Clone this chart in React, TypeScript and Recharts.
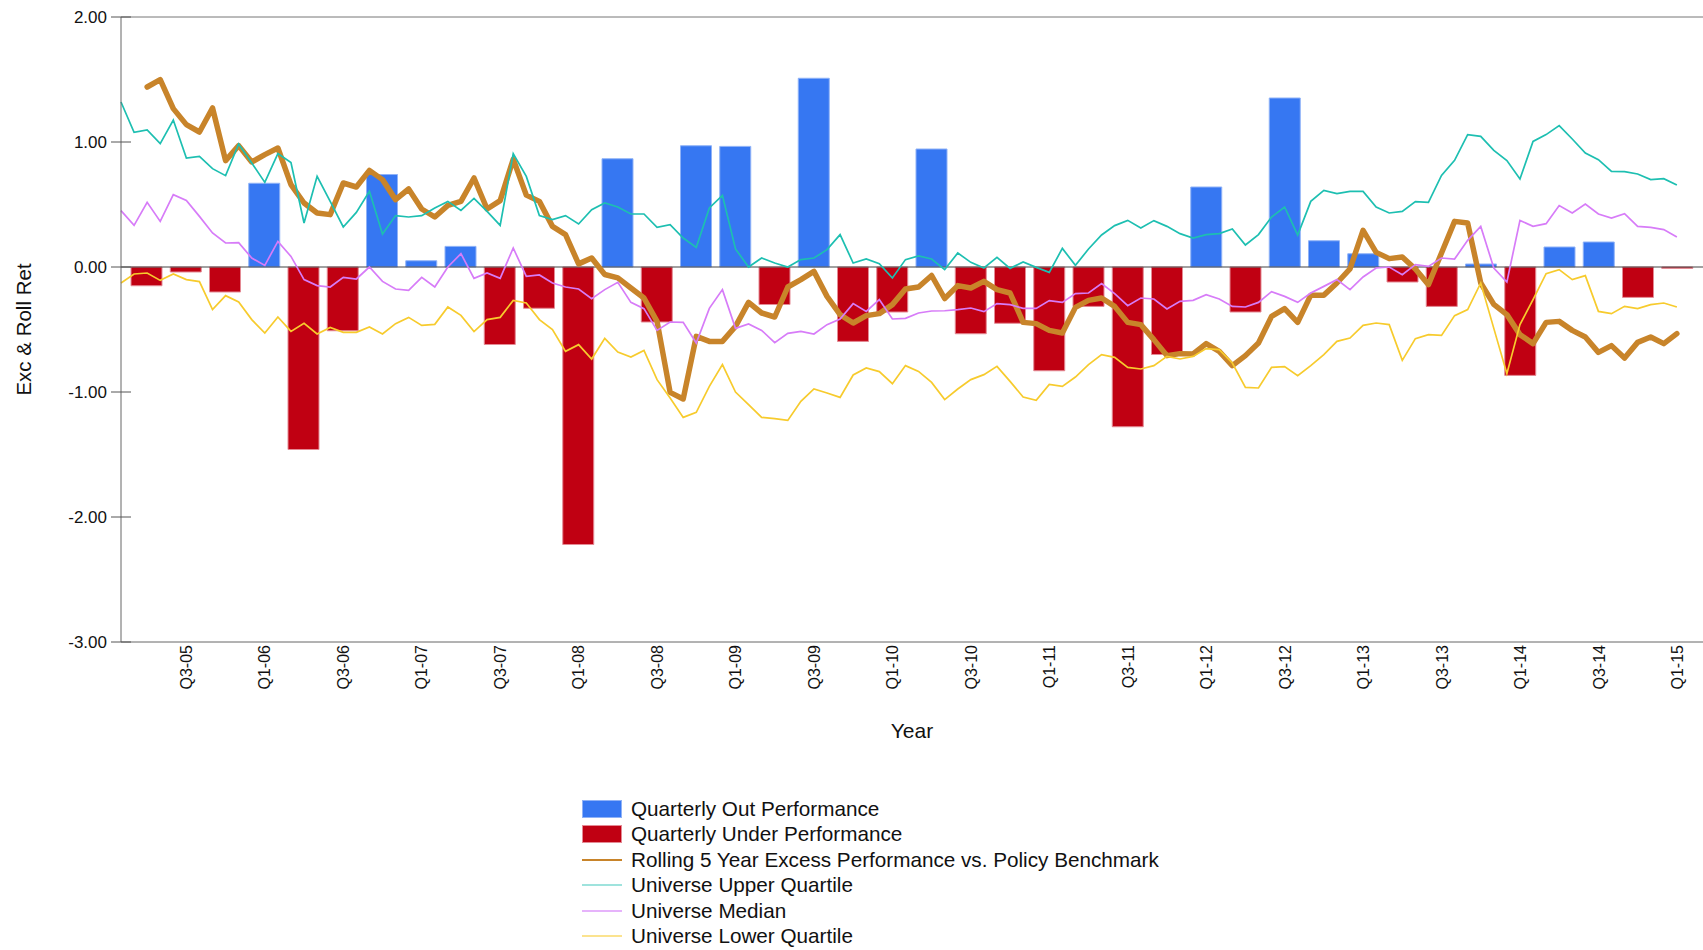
import React from "react";
import {
  ComposedChart,
  Bar,
  Line,
  XAxis,
  YAxis,
  ReferenceLine,
} from "recharts";

// quarterly bars, Q2-05 .. Q1-15
const quarters = [
  "Q2-05", "Q3-05", "Q4-05", "Q1-06", "Q2-06", "Q3-06", "Q4-06", "Q1-07",
  "Q2-07", "Q3-07", "Q4-07", "Q1-08", "Q2-08", "Q3-08", "Q4-08", "Q1-09",
  "Q2-09", "Q3-09", "Q4-09", "Q1-10", "Q2-10", "Q3-10", "Q4-10", "Q1-11",
  "Q2-11", "Q3-11", "Q4-11", "Q1-12", "Q2-12", "Q3-12", "Q4-12", "Q1-13",
  "Q2-13", "Q3-13", "Q4-13", "Q1-14", "Q2-14", "Q3-14", "Q4-14", "Q1-15",
];

const quarterlyExcess = [
  -0.15, -0.04, -0.2, 0.67, -1.46, -0.51, 0.74, 0.05, 0.165, -0.62,
  -0.33, -2.22, 0.866, -0.44, 0.97, 0.965, -0.3, 1.51, -0.595, -0.36,
  0.944, -0.534, -0.45, -0.83, -0.315, -1.278, -0.7, 0.64, -0.36, 1.352,
  0.21, 0.106, -0.12, -0.315, 0.024, -0.867, 0.16, 0.2, -0.243, -0.011,
];

// monthly lines, Apr-05 .. Mar-15
const upperQuartile = [
  1.32, 1.077, 1.096, 0.987, 1.176, 0.872, 0.885, 0.787, 0.731, 0.984,
  0.832, 0.677, 0.907, 0.835, 0.352, 0.725, 0.525, 0.32, 0.437, 0.605,
  0.264, 0.411, 0.4, 0.411, 0.472, 0.525, 0.453, 0.549, 0.445, 0.333,
  0.907, 0.725, 0.411, 0.379, 0.411, 0.344, 0.459, 0.512, 0.48, 0.424,
  0.424, 0.317, 0.339, 0.232, 0.157, 0.472, 0.573, 0.144, 0.0, 0.072,
  0.032, 0.0, 0.059, 0.072, 0.139, 0.259, 0.032, 0.064, 0.027, -0.088,
  0.059, 0.088, 0.064, -0.021, 0.112, 0.037, -0.008, 0.077, -0.011, 0.04,
  -0.003, -0.043, 0.149, 0.013, 0.144, 0.256, 0.331, 0.373, 0.312, 0.371,
  0.325, 0.267, 0.232, 0.259, 0.267, 0.304, 0.176, 0.259, 0.4, 0.48,
  0.256, 0.525, 0.613, 0.587, 0.605, 0.605, 0.48, 0.432, 0.445, 0.523,
  0.517, 0.733, 0.853, 1.059, 1.045, 0.933, 0.851, 0.704, 1.005, 1.059,
  1.131, 1.024, 0.912, 0.859, 0.765, 0.763, 0.744, 0.699, 0.707, 0.656,
];

const median = [
  0.451, 0.333, 0.517, 0.365, 0.579, 0.533, 0.405, 0.272, 0.192, 0.195,
  0.072, 0.013, 0.205, 0.085, -0.101, -0.149, -0.16, -0.083, -0.096, 0.0,
  -0.115, -0.176, -0.187, -0.083, -0.16, 0.0, 0.107, -0.091, -0.048, -0.091,
  0.152, -0.075, -0.064, -0.128, -0.16, -0.176, -0.253, -0.181, -0.123, -0.283,
  -0.333, -0.507, -0.44, -0.443, -0.608, -0.331, -0.181, -0.491, -0.456, -0.507,
  -0.605, -0.531, -0.515, -0.536, -0.461, -0.416, -0.293, -0.355, -0.261, -0.416,
  -0.411, -0.368, -0.352, -0.35, -0.341, -0.328, -0.357, -0.293, -0.301, -0.331,
  -0.331, -0.269, -0.283, -0.213, -0.208, -0.133, -0.213, -0.309, -0.248, -0.256,
  -0.336, -0.275, -0.267, -0.221, -0.256, -0.315, -0.32, -0.283, -0.197, -0.235,
  -0.283, -0.208, -0.155, -0.101, -0.181, -0.08, -0.008, 0.0, -0.061, 0.019,
  0.005, 0.072, 0.064, 0.213, 0.325, -0.008, -0.12, 0.373, 0.325, 0.347,
  0.491, 0.432, 0.504, 0.424, 0.392, 0.427, 0.325, 0.317, 0.299, 0.24,
];

const lowerQuartile = [
  -0.128, -0.056, -0.048, -0.107, -0.056, -0.101, -0.117, -0.341, -0.229, -0.28,
  -0.421, -0.528, -0.4, -0.515, -0.451, -0.536, -0.483, -0.523, -0.523, -0.48,
  -0.536, -0.453, -0.403, -0.467, -0.459, -0.32, -0.387, -0.517, -0.421, -0.403,
  -0.267, -0.288, -0.421, -0.501, -0.675, -0.621, -0.736, -0.571, -0.68, -0.72,
  -0.667, -0.901, -1.048, -1.203, -1.163, -0.955, -0.781, -1.0, -1.101, -1.203,
  -1.213, -1.227, -1.075, -0.976, -1.008, -1.043, -0.864, -0.808, -0.837, -0.933,
  -0.789, -0.835, -0.923, -1.061, -0.976, -0.901, -0.861, -0.795, -0.915, -1.04,
  -1.067, -0.939, -0.955, -0.88, -0.781, -0.701, -0.723, -0.803, -0.816, -0.789,
  -0.715, -0.736, -0.715, -0.653, -0.661, -0.768, -0.963, -0.968, -0.803, -0.797,
  -0.869, -0.789, -0.701, -0.595, -0.568, -0.467, -0.448, -0.461, -0.747, -0.573,
  -0.541, -0.547, -0.389, -0.341, -0.128, -0.491, -0.853, -0.461, -0.261, -0.053,
  -0.021, -0.101, -0.069, -0.355, -0.373, -0.315, -0.333, -0.301, -0.288, -0.32,
];

const rolling5yr = [
  null, null, 1.44, 1.499, 1.267, 1.139, 1.08, 1.272, 0.851, 0.971,
  0.84, 0.899, 0.952, 0.659, 0.512, 0.432, 0.419, 0.672, 0.64, 0.773,
  0.699, 0.539, 0.624, 0.464, 0.4, 0.493, 0.525, 0.712, 0.464, 0.531,
  0.862, 0.575, 0.525, 0.325, 0.259, 0.025, 0.072, -0.06, -0.087, -0.168,
  -0.248, -0.435, -1.003, -1.056, -0.555, -0.595, -0.595, -0.475, -0.283, -0.368,
  -0.4, -0.16, -0.101, -0.035, -0.235, -0.381, -0.448, -0.389, -0.373, -0.301,
  -0.176, -0.16, -0.068, -0.252, -0.149, -0.168, -0.115, -0.181, -0.208, -0.443,
  -0.453, -0.507, -0.528, -0.323, -0.267, -0.248, -0.315, -0.443, -0.461, -0.581,
  -0.709, -0.693, -0.696, -0.613, -0.675, -0.789, -0.709, -0.608, -0.395, -0.333,
  -0.443, -0.225, -0.225, -0.128, -0.015, 0.293, 0.117, 0.067, 0.08, -0.016,
  -0.141, 0.112, 0.365, 0.352, -0.128, -0.299, -0.381, -0.541, -0.613, -0.443,
  -0.435, -0.507, -0.56, -0.683, -0.629, -0.728, -0.603, -0.56, -0.613, -0.533,
];

const yTicks = [-3, -2, -1, 0, 1, 2];

const BLUE = "#3677f2";
const RED = "#c00012";
const BROWN = "#c8842a";
const TEAL = "#1dbfb1";
const VIOLET = "#d77cf8";
const YELLOW = "#f7cb2d";
const FONT = "'Liberation Sans', Arial, sans-serif";

// bars live on the quarter axis, lines on a month axis (3 months per quarter)
const barData = quarters.map((q, i) => ({
  q,
  out: quarterlyExcess[i] > 0 ? quarterlyExcess[i] : null,
  under: quarterlyExcess[i] < 0 ? quarterlyExcess[i] : null,
}));

const lineData = upperQuartile.map((v, i) => ({
  m: i,
  upper: v,
  median: median[i],
  lower: lowerQuartile[i],
  rolling: rolling5yr[i],
}));

const legendItems = [
  { name: "Quarterly Out Performance", color: BLUE, kind: "box", border: "#8fb2f7" },
  { name: "Quarterly Under Performance", color: RED, kind: "box", border: "#e48a94" },
  { name: "Rolling 5 Year Excess Performance vs. Policy Benchmark", color: BROWN, kind: "line", w: 2 },
  { name: "Universe Upper Quartile", color: "#9fe3dd", kind: "line", w: 2 },
  { name: "Universe Median", color: "#e6b3fb", kind: "line", w: 2 },
  { name: "Universe Lower Quartile", color: "#fbe38f", kind: "line", w: 2 },
];

const YTick = (props: any) => {
  const { x, y, payload } = props;
  // x is the label anchor: tickSize(10) + tickMargin(4) left of the axis line
  return (
    <g>
      <line x1={x + 4} x2={x + 24} y1={y} y2={y} stroke="#555" strokeWidth={1} />
      <text
        x={x}
        y={y}
        dy="0.35em"
        textAnchor="end"
        fill="#111"
        fontSize={17}
        fontFamily={FONT}
      >
        {Number(payload.value).toFixed(2)}
      </text>
    </g>
  );
};

const XTick = (props: any) => {
  const { x, y, payload } = props;
  const label = String(payload.value);
  if (!label.startsWith("Q1") && !label.startsWith("Q3")) return <g />;
  return (
    <text
      x={x}
      y={y}
      dy="0.36em"
      textAnchor="end"
      transform={`rotate(-90, ${x}, ${y})`}
      fill="#111"
      fontSize={16}
      fontFamily={FONT}
    >
      {label}
    </text>
  );
};

export default function App() {
  return (
    <div
      style={{
        position: "absolute",
        left: 0,
        top: 0,
        width: 1703,
        height: 950,
        background: "#fff",
        fontFamily: FONT,
      }}
    >
      <ComposedChart
        width={1703}
        height={950}
        data={barData}
        stackOffset="sign"
        margin={{ top: 17, right: 0, left: 0, bottom: 188 }}
      >
        <XAxis
          xAxisId="m"
          dataKey="m"
          type="number"
          domain={[0, 121]}
          orientation="top"
          height={0}
          hide
        />
        <XAxis
          xAxisId="q"
          dataKey="q"
          type="category"
          interval={0}
          height={120}
          padding={{ left: 6, right: 6 }}
          tickLine={false}
          tickSize={0}
          tickMargin={3}
          axisLine={{ stroke: "#666" }}
          tick={<XTick />}
          label={({ viewBox }: any) => (
            <text
              x={viewBox.x + viewBox.width / 2}
              y={viewBox.y + 89}
              dy="0.35em"
              textAnchor="middle"
              fill="#111"
              fontSize={21}
              fontFamily={FONT}
            >
              Year
            </text>
          )}
        />
        <YAxis
          type="number"
          domain={[-3, 2]}
          ticks={yTicks}
          width={121}
          tickLine={false}
          tickSize={10}
          tickMargin={4}
          axisLine={{ stroke: "#666" }}
          tick={<YTick />}
          label={({ viewBox }: any) => (
            <text
              x={24}
              y={viewBox.y + viewBox.height / 2}
              dy="0.35em"
              textAnchor="middle"
              transform={`rotate(-90, 24, ${viewBox.y + viewBox.height / 2})`}
              fill="#111"
              fontSize={20.5}
              fontFamily={FONT}
            >
              Exc &amp; Roll Ret
            </text>
          )}
        />
        <ReferenceLine xAxisId="q" y={2} stroke="#777" strokeWidth={1} />
        <Bar
          xAxisId="q"
          dataKey="out"
          stackId="s"
          barSize={31}
          fill={BLUE}
          stroke="#8fb2f7"
          strokeWidth={1}
          isAnimationActive={false}
        />
        <Bar
          xAxisId="q"
          dataKey="under"
          stackId="s"
          barSize={31}
          fill={RED}
          stroke="#e48a94"
          strokeWidth={1}
          isAnimationActive={false}
        />
        <ReferenceLine xAxisId="q" y={0} stroke="#444" strokeWidth={1.2} />
        <Line
          xAxisId="m"
          data={lineData}
          dataKey="rolling"
          type="linear"
          stroke={BROWN}
          strokeWidth={5.5}
          strokeLinejoin="round"
          strokeLinecap="round"
          dot={false}
          activeDot={false}
          isAnimationActive={false}
        />
        <Line
          xAxisId="m"
          data={lineData}
          dataKey="upper"
          type="linear"
          stroke={TEAL}
          strokeWidth={1.7}
          dot={false}
          activeDot={false}
          isAnimationActive={false}
        />
        <Line
          xAxisId="m"
          data={lineData}
          dataKey="median"
          type="linear"
          stroke={VIOLET}
          strokeWidth={1.7}
          dot={false}
          activeDot={false}
          isAnimationActive={false}
        />
        <Line
          xAxisId="m"
          data={lineData}
          dataKey="lower"
          type="linear"
          stroke={YELLOW}
          strokeWidth={1.7}
          dot={false}
          activeDot={false}
          isAnimationActive={false}
        />
      </ComposedChart>

      <div style={{ position: "absolute", left: 582, top: 796 }}>
        {legendItems.map((it) => (
          <div
            key={it.name}
            style={{ display: "flex", alignItems: "center", height: 25.5 }}
          >
            <div style={{ width: 40, height: 18, display: "flex", alignItems: "center" }}>
              {it.kind === "box" ? (
                <div
                  style={{
                    width: 40,
                    height: 18,
                    boxSizing: "border-box",
                    background: it.color,
                    border: `1px solid ${it.border}`,
                  }}
                />
              ) : (
                <div style={{ width: 40, height: it.w, background: it.color }} />
              )}
            </div>
            <span style={{ marginLeft: 9, fontSize: 20.7, color: "#111", whiteSpace: "nowrap" }}>
              {it.name}
            </span>
          </div>
        ))}
      </div>
    </div>
  );
}
